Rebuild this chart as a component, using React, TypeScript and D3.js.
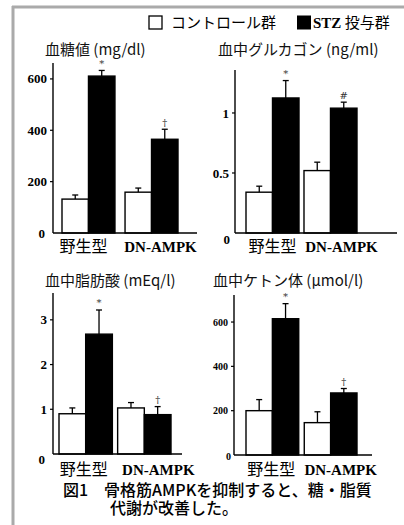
import React from "react";
import * as d3 from "d3";

const groups = ["野生型", "DN-AMPK"];
const seriesNames = ["コントロール群", "STZ 投与群"];

const glucoseControl = [132, 159];
const glucoseControlSem = [16, 16];
const glucoseStz = [611, 365];
const glucoseStzSem = [22, 39];
const glucoseTicks = [0, 200, 400, 600];
const glucoseMarks = ["*", "†"];

const glucagonControl = [0.34, 0.52];
const glucagonControlSem = [0.05, 0.07];
const glucagonStz = [1.125, 1.04];
const glucagonStzSem = [0.145, 0.05];
const glucagonTicks = [0, 0.5, 1];
const glucagonMarks = ["*", "#"];

const ffaControl = [0.9, 1.03];
const ffaControlSem = [0.13, 0.12];
const ffaStz = [2.68, 0.88];
const ffaStzSem = [0.54, 0.18];
const ffaTicks = [0, 1, 2, 3];
const ffaMarks = ["*", "†"];

const ketoneControl = [200, 146];
const ketoneControlSem = [50, 49];
const ketoneStz = [615, 280];
const ketoneStzSem = [68, 20];
const ketoneTicks = [0, 200, 400, 600];
const ketoneMarks = ["*", "†"];

const titles = ["血糖値 (mg/dl)", "血中グルカゴン (ng/ml)", "血中脂肪酸 (mEq/l)", "血中ケトン体 (μmol/l)"];
const caption1 = "図1　骨格筋AMPKを抑制すると、糖・脂質";
const caption2 = "代謝が改善した。";

const SERIF = "'Liberation Serif', 'Noto Sans CJK JP', serif";
const SANS = "'Noto Sans CJK JP', sans-serif";
const MARKFONT = "'DejaVu Serif', serif";

type PanelCfg = {
  title: string;
  titleX: number;
  titleY: number;
  axisX: number;
  xEnd: number;
  bx0: number;
  bx1: number;
  pad: number;
  top: number;
  base: number;
  yMax: number;
  ticks: number[];
  tickSize: number;
  tickBold: boolean;
  zeroDx: number;
  zeroDy: number;
  labelDx: number[];
  labelY: number;
  control: number[];
  controlSem: number[];
  stz: number[];
  stzSem: number[];
  marks: string[];
};

const panels: PanelCfg[] = [
  {
    title: titles[0], titleX: 45, titleY: 55, axisX: 53, xEnd: 197, bx0: 62, bx1: 178, pad: 0.16,
    top: 63, base: 233, yMax: 662, ticks: glucoseTicks, tickSize: 13, tickBold: true, zeroDx: -8, zeroDy: 0,
    labelDx: [-5, 9], labelY: 252,
    control: glucoseControl, controlSem: glucoseControlSem, stz: glucoseStz, stzSem: glucoseStzSem, marks: glucoseMarks,
  },
  {
    title: titles[1], titleX: 218, titleY: 55, axisX: 235, xEnd: 397, bx0: 246, bx1: 357, pad: 0.086,
    top: 70, base: 233, yMax: 1.358, ticks: glucagonTicks, tickSize: 13, tickBold: true, zeroDx: -5, zeroDy: 6,
    labelDx: [0, 11], labelY: 252,
    control: glucagonControl, controlSem: glucagonControlSem, stz: glucagonStz, stzSem: glucagonStzSem, marks: glucagonMarks,
  },
  {
    title: titles[2], titleX: 45, titleY: 286, axisX: 53, xEnd: 182, bx0: 59, bx1: 171, pad: 0.09,
    top: 293, base: 454, yMax: 3.6, ticks: ffaTicks, tickSize: 13, tickBold: true, zeroDx: -8, zeroDy: 5,
    labelDx: [-2, 14], labelY: 475,
    control: ffaControl, controlSem: ffaControlSem, stz: ffaStz, stzSem: ffaStzSem, marks: ffaMarks,
  },
  {
    title: titles[3], titleX: 213, titleY: 286, axisX: 234, xEnd: 372, bx0: 246, bx1: 357, pad: 0.095,
    top: 295, base: 455, yMax: 722, ticks: ketoneTicks, tickSize: 10, tickBold: true, zeroDx: -3, zeroDy: 1,
    labelDx: [-1, 10], labelY: 475,
    control: ketoneControl, controlSem: ketoneControlSem, stz: ketoneStz, stzSem: ketoneStzSem, marks: ketoneMarks,
  },
];

function Panel({ p }: { p: PanelCfg }) {
  const y = d3.scaleLinear().domain([0, p.yMax]).range([p.base, p.top]);
  const xg = d3.scaleBand<string>().domain(groups).range([p.bx0, p.bx1]).paddingInner(p.pad).paddingOuter(0);
  const xs = d3.scaleBand<string>().domain(seriesNames).range([0, xg.bandwidth()]).padding(0);
  const series = [
    { name: seriesNames[0], vals: p.control, sem: p.controlSem, fill: "#fff" },
    { name: seriesNames[1], vals: p.stz, sem: p.stzSem, fill: "#000" },
  ];
  const cap = 3;
  return (
    <g>
      <text x={p.titleX} y={p.titleY} fontFamily={SANS} fontSize={15} fill="#111">{p.title}</text>
      {groups.map((g, gi) =>
        series.map((s) => {
          const x0 = (xg(g) as number) + (xs(s.name) as number);
          const w = xs.bandwidth();
          const cx = x0 + w / 2;
          const yTop = y(s.vals[gi]);
          const yErr = y(s.vals[gi] + s.sem[gi]);
          return (
            <g key={g + s.name}>
              <line x1={cx} x2={cx} y1={yTop} y2={yErr} stroke="#000" strokeWidth={1.3} />
              <line x1={cx - cap} x2={cx + cap} y1={yErr} y2={yErr} stroke="#000" strokeWidth={1.3} />
              <rect x={x0} y={yTop} width={w} height={p.base - yTop} fill={s.fill} stroke="#000" strokeWidth={1.4} />
            </g>
          );
        })
      )}
      {groups.map((g, gi) => {
        const s = series[1];
        const cx = (xg(g) as number) + (xs(s.name) as number) + xs.bandwidth() / 2;
        const yErr = y(s.vals[gi] + s.sem[gi]);
        return (
          <text key={"m" + g} x={cx} y={yErr - 7} dy="0.35em" textAnchor="middle" fontFamily={MARKFONT} fontSize={10} fill="#333">
            {p.marks[gi]}
          </text>
        );
      })}
      <line x1={p.axisX} x2={p.axisX} y1={p.top} y2={p.base} stroke="#000" strokeWidth={1.4} />
      <line x1={p.axisX} x2={p.xEnd} y1={p.base} y2={p.base} stroke="#000" strokeWidth={1.4} />
      {p.ticks.map((t) =>
        t === 0 ? (
          <text key={t} x={p.axisX + p.zeroDx} y={y(t) + p.zeroDy} dy="0.35em" textAnchor="end" fontFamily={SERIF}
            fontSize={p.tickSize} fontWeight={p.tickBold ? "bold" : "normal"}>0</text>
        ) : (
          <g key={t}>
            <line x1={p.axisX - 3} x2={p.axisX} y1={y(t)} y2={y(t)} stroke="#000" strokeWidth={1.2} />
            <text x={p.axisX - 6} y={y(t)} dy="0.35em" textAnchor="end" fontFamily={SERIF}
              fontSize={p.tickSize} fontWeight={p.tickBold ? "bold" : "normal"}>{String(t)}</text>
          </g>
        )
      )}
      {groups.map((g, gi) => (
        <text key={"l" + g} x={(xg(g) as number) + xg.bandwidth() / 2 + p.labelDx[gi]} y={p.labelY} textAnchor="middle"
          fontFamily={SERIF} fontSize={gi === 0 ? 16 : 15} fontWeight={gi === 0 ? "normal" : "bold"}>{g}</text>
      ))}
    </g>
  );
}

export default function App() {
  return (
    <svg width={404} height={525} style={{ position: "absolute", left: 0, top: 0, background: "#fff" }}>
      <rect x={0} y={0} width={404} height={525} fill="#fff" />
      <line x1={12} x2={404} y1={7} y2={7} stroke="#aaa" strokeWidth={3} />
      <line x1={13} x2={13} y1={6} y2={525} stroke="#aaa" strokeWidth={3} />
      <rect x={149} y={16} width={13} height={13} fill="#fff" stroke="#000" strokeWidth={1.3} />
      <text x={171} y={28} fontFamily={SANS} fontSize={15}>{seriesNames[0]}</text>
      <rect x={297} y={15.5} width={14} height={14} fill="#000" />
      <text x={313} y={28} fontFamily={SERIF} fontSize={15}>
        <tspan fontWeight="bold">STZ</tspan>
        <tspan fontFamily={SANS}> 投与群</tspan>
      </text>
      {panels.map((p, i) => (
        <Panel key={i} p={p} />
      ))}
      <text x={63} y={496} fontFamily={SANS} fontSize={16} fontWeight={500}>{caption1}</text>
      <text x={110} y={514} fontFamily={SANS} fontSize={16} fontWeight={500}>{caption2}</text>
    </svg>
  );
}
